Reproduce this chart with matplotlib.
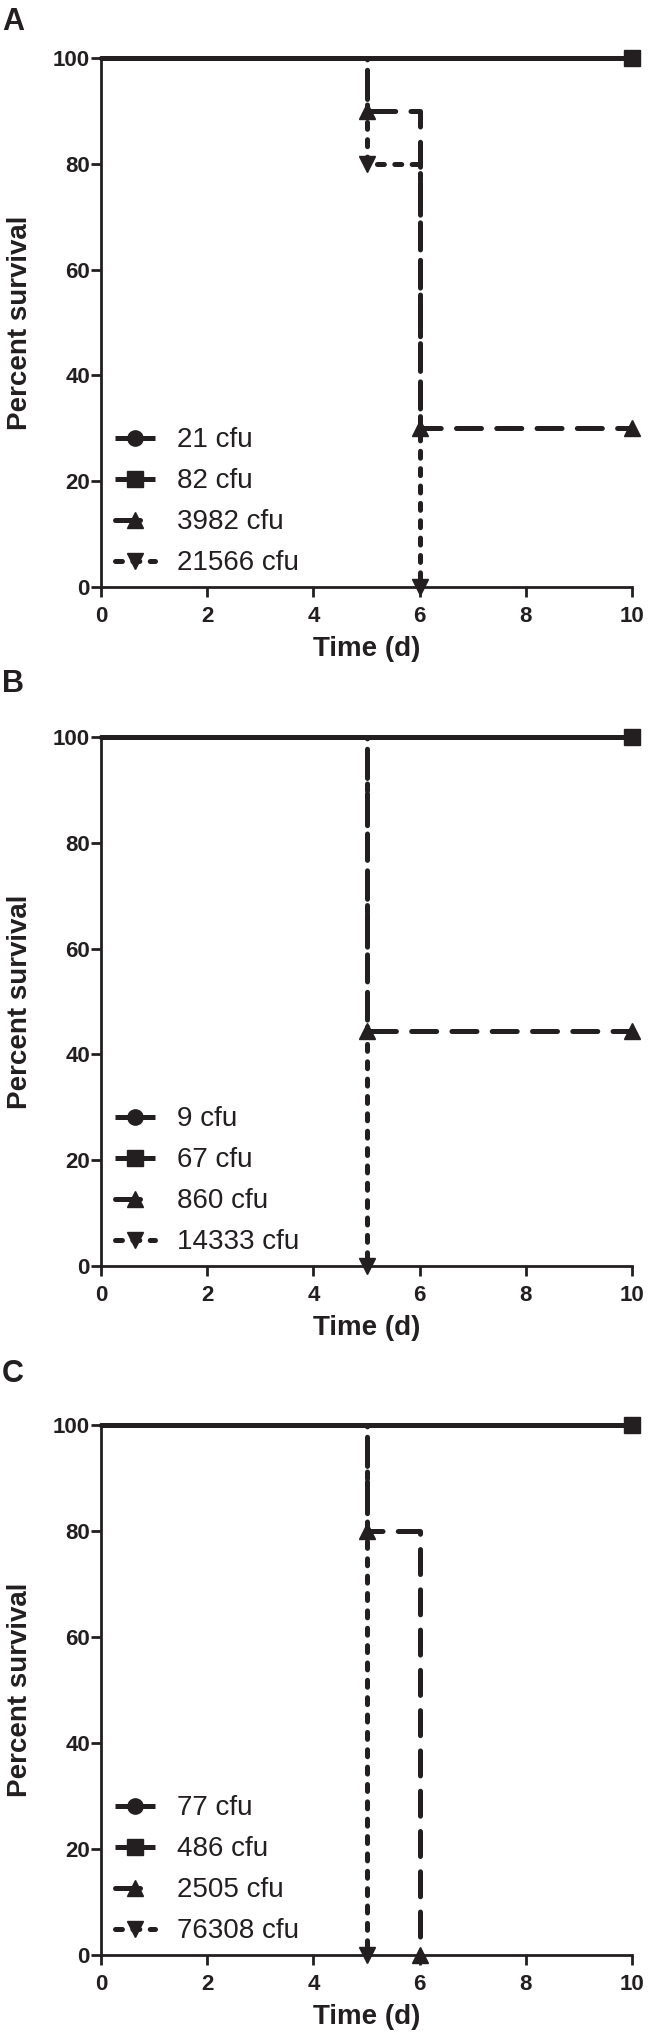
import matplotlib
matplotlib.use("Agg")
import matplotlib.pyplot as plt

plt.rcParams["font.family"] = ["Liberation Sans", "DejaVu Sans"]
plt.rcParams["lines.scale_dashes"] = False

INK = "#231f20"

# ── survival data (time in days, percent survival) ─────────────────
A_LABELS = ["21 cfu", "82 cfu", "3982 cfu", "21566 cfu"]
A_TIME = [[0, 10], [0, 10], [0, 5, 6, 10], [0, 5, 6]]
A_SURV = [[100, 100], [100, 100], [100, 90, 30, 30], [100, 80, 0]]

B_LABELS = ["9 cfu", "67 cfu", "860 cfu", "14333 cfu"]
B_TIME = [[0, 10], [0, 10], [0, 5, 10], [0, 5]]
B_SURV = [[100, 100], [100, 100], [100, 44.4, 44.4], [100, 0]]

C_LABELS = ["77 cfu", "486 cfu", "2505 cfu", "76308 cfu"]
C_TIME = [[0, 10], [0, 10], [0, 5, 6], [0, 5]]
C_SURV = [[100, 100], [100, 100], [100, 80, 0], [100, 0]]

MARKERS = ["o", "s", "^", "v"]
STYLES = ["-", "-", (0, (18, 11)), (0, (5, 7.5))]
ORDER = [4, 4, 3, 3]

W, H = 649, 2042
LEFT, RIGHT = 101, 632
PANELS = [("A", 58, 587, 22, A_TIME, A_SURV, A_LABELS),
          ("B", 737, 1266, 684, B_TIME, B_SURV, B_LABELS),
          ("C", 1425, 1955, 1374, C_TIME, C_SURV, C_LABELS)]


def draw_panel(ax, times, survs, labels):
    for t, s, lab, mk, ls, z in zip(times, survs, labels, MARKERS, STYLES, ORDER):
        ax.plot(t, s, drawstyle="steps-post", color=INK, lw=3.6, linestyle=ls,
                marker=mk, markersize=11, markevery=list(range(1, len(t))),
                dash_capstyle="round", solid_capstyle="butt",
                clip_on=False, label=lab, zorder=z)

    ax.set_xlim(0, 10)
    ax.set_ylim(0, 100)
    ax.set_xticks(range(0, 11, 2))
    ax.set_yticks(range(0, 101, 20))
    ax.spines["top"].set_visible(False)
    ax.spines["right"].set_visible(False)
    for sp in ("left", "bottom"):
        ax.spines[sp].set_linewidth(2)
        ax.spines[sp].set_color(INK)
    ax.tick_params(direction="out", length=7, width=2, colors=INK, labelsize=16)
    ax.tick_params(axis="x", pad=7)
    ax.tick_params(axis="y", pad=1)
    for lbl in ax.get_xticklabels() + ax.get_yticklabels():
        lbl.set_fontweight("bold")
    ax.set_xlabel("Time (d)", fontsize=20, fontweight="bold", color=INK, labelpad=6)
    ax.set_ylabel("Percent survival", fontsize=20, fontweight="bold", color=INK,
                  labelpad=14)
    ax.legend(loc="lower left", bbox_to_anchor=(0.026, 0.02), frameon=False,
              fontsize=20, handlelength=1.45, handletextpad=0.8,
              labelspacing=0.54, borderpad=0, borderaxespad=0, labelcolor=INK)


fig = plt.figure(figsize=(W / 100, H / 100), dpi=100)
fig.patch.set_facecolor("white")

for letter, top, bottom, ly, times, survs, labels in PANELS:
    ax = fig.add_axes([LEFT / W, 1 - bottom / H, (RIGHT - LEFT) / W, (bottom - top) / H])
    draw_panel(ax, times, survs, labels)
    fig.text(0.003, 1 - ly / H, letter, fontsize=22, fontweight="bold",
             color=INK, va="center", ha="left")

fig.savefig("out.png", dpi=100)
